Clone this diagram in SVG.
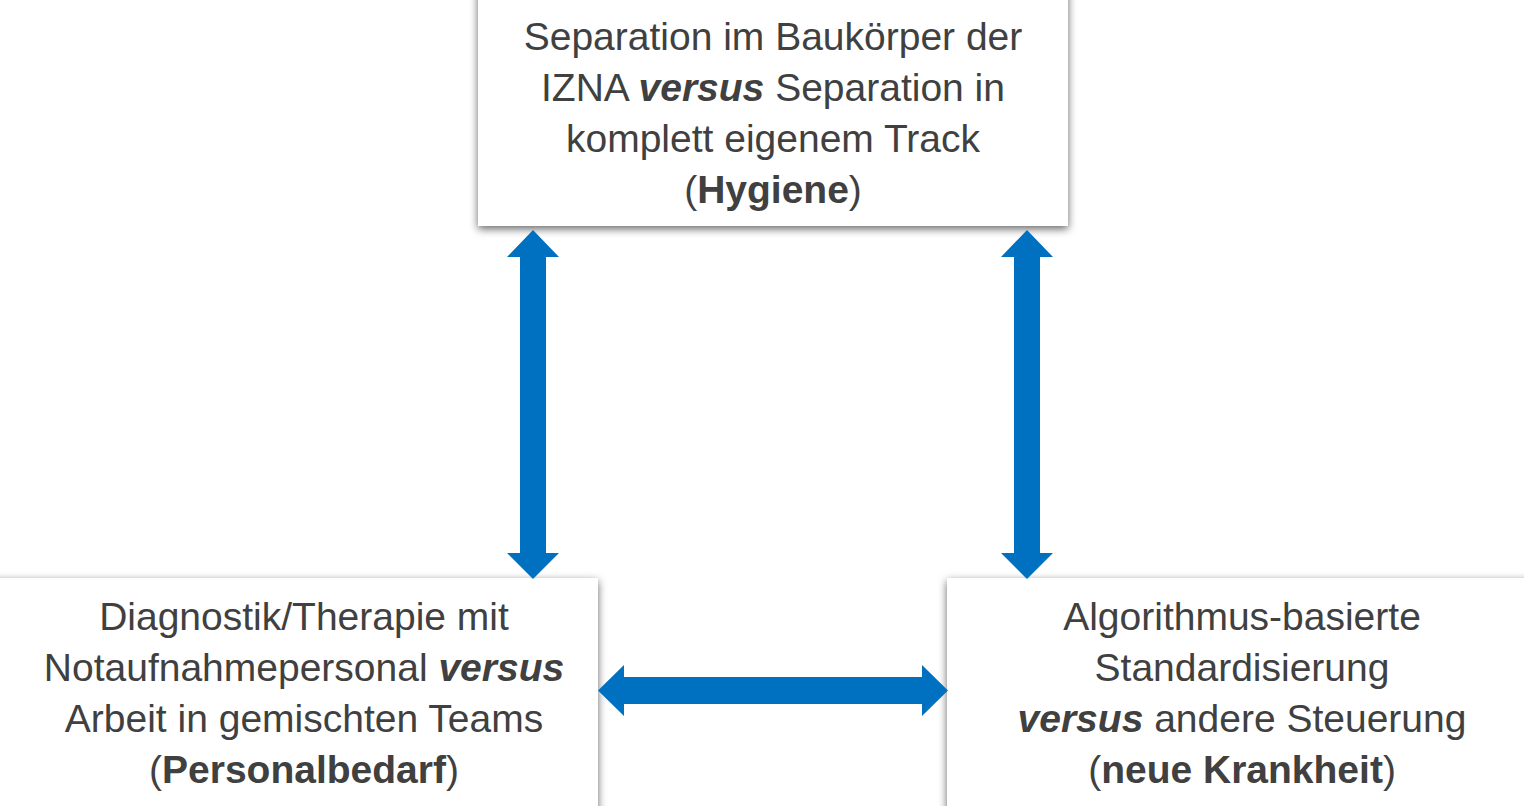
<svg xmlns="http://www.w3.org/2000/svg" width="1524" height="806" viewBox="0 0 1524 806">
  <defs>
    <filter id="shadow" x="-10%" y="-10%" width="120%" height="130%">
      <feDropShadow dx="0" dy="3" stdDeviation="4" flood-color="#000000" flood-opacity="0.6"/>
    </filter>
  </defs>
  <style>
    .box { fill: #ffffff; filter: url(#shadow); }
    .label { font-family: "Liberation Sans", Arial, sans-serif; font-size: 39px; fill: #404040; text-anchor: middle; }
    .b { font-weight: bold; }
    .bi { font-weight: bold; font-style: italic; }
    .arrow { fill: #0070C0; }
  </style>
  <rect width="1524" height="806" fill="#ffffff"/>

  <!-- top node: hygiene -->
  <g id="node-hygiene">
    <rect class="box" x="478" y="-20" width="590" height="246"/>
    <text class="label" x="773" y="50">Separation im Baukörper der</text>
    <text class="label" x="773" y="101">IZNA <tspan class="bi">versus</tspan> Separation in</text>
    <text class="label" x="773" y="152">komplett eigenem Track</text>
    <text class="label" x="773" y="203">(<tspan class="b">Hygiene</tspan>)</text>
  </g>

  <!-- bottom-left node: staffing -->
  <g id="node-personal">
    <rect class="box" x="-20" y="578" width="618" height="250"/>
    <text class="label" x="304" y="630">Diagnostik/Therapie mit</text>
    <text class="label" x="304" y="681">Notaufnahmepersonal <tspan class="bi">versus</tspan></text>
    <text class="label" x="304" y="732">Arbeit in gemischten Teams</text>
    <text class="label" x="304" y="783">(<tspan class="b">Personalbedarf</tspan>)</text>
  </g>

  <!-- bottom-right node: new disease -->
  <g id="node-krankheit">
    <rect class="box" x="947" y="578" width="600" height="250"/>
    <text class="label" x="1242" y="630">Algorithmus-basierte</text>
    <text class="label" x="1242" y="681">Standardisierung</text>
    <text class="label" x="1242" y="732"><tspan class="bi">versus</tspan> andere Steuerung</text>
    <text class="label" x="1242" y="783">(<tspan class="b">neue Krankheit</tspan>)</text>
  </g>

  <!-- double-headed block arrows -->
  <g id="connectors">
    <polygon class="arrow" points="533,230 559,257 546,257 546,553 559,553 533,579 507,553 520,553 520,257 507,257"/>
    <polygon class="arrow" points="1027,230 1053,257 1040,257 1040,553 1053,553 1027,579 1001,553 1014,553 1014,257 1001,257"/>
    <polygon class="arrow" points="598,690.5 624,665 624,677 922,677 922,665 948,690.5 922,716 922,704 624,704 624,716"/>
  </g>
</svg>
